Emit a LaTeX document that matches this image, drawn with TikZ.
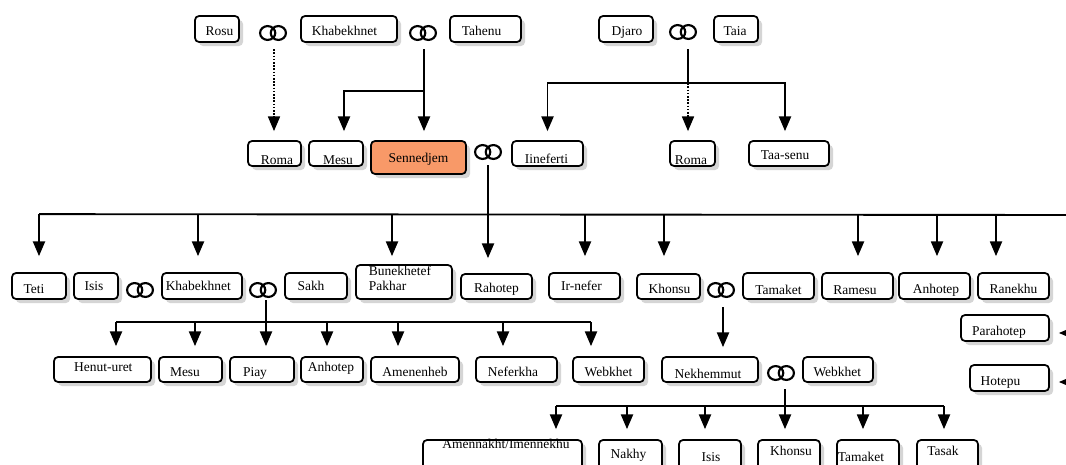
\documentclass[tikz,border=0pt]{standalone}
\usepackage{fontspec}
\setmainfont{Liberation Serif}
\usetikzlibrary{arrows.meta,shadows}
\definecolor{snjfill}{RGB}{248,153,104}
% text placed with horizontal shift #1 (px) and baseline #2 px below box centre
\newcommand\tx[3]{\raisebox{\dimexpr -#2pt*3/4\relax}[0pt][0pt]{\makebox[0pt]{\hspace*{\dimexpr #1pt*3/2\relax}#3}}}
% box from pixel corners
\newcommand\pbox[9][]{%
  \pgfmathsetmacro\pxw{(#4-#3)*0.75}%
  \pgfmathsetmacro\pxh{(#6-#5)*0.75}%
  \node[famBox,minimum width=\pxw pt,minimum height=\pxh pt,#1] (#2) at ({(#3+#4)/2},{(#5+#6)/2}) {\tx{#7}{#8}{#9}};}
\newcommand\dropto[4]{\draw[arr] ([shift={(#2,-#3)}]#1.north) -- ([shift={(#2,-#4)}]#1.north);}
\tikzset{
  famBox/.style={draw,line width=1.3pt,rounded corners=3pt,fill=white,inner sep=0pt,
    drop shadow={shadow xshift=3pt,shadow yshift=-3pt,fill=black!32},
    font=\fontsize{10.1}{11.3}\selectfont},
  rings/.style={minimum width=24pt,minimum height=15pt,inner sep=0pt,
    path picture={\draw[line width=1.6pt]
      ([xshift=-4pt]path picture bounding box.center) ellipse[x radius=5.7pt,y radius=5.2pt]
      ([xshift=4pt]path picture bounding box.center) ellipse[x radius=5.7pt,y radius=5.2pt];}},
  conn/.style={line width=1.4pt},
  arr/.style={conn,-{Triangle[width=9pt,length=11pt]}},
  dotarr/.style={arr,line width=1.2pt,dash pattern=on 1.2pt off 1.2pt}
}
\begin{document}
\begin{tikzpicture}[x=0.75pt,y=-0.75pt]
\useasboundingbox (0,0) rectangle (1066,464);
\fill[white] (0,0) rectangle (1066,464);
\clip (0,0) rectangle (1066,464);
% top row
\pbox{rosu}{195}{239}{16}{42}{2.5}{7}{Rosu}
\node[rings] (r1) at (273,33) {};
\pbox{khab1}{301}{397}{16}{42}{-4.5}{7}{Khabekhnet}
\node[rings] (r2) at (423,33) {};
\pbox{tahenu}{450}{521}{16}{42}{-4}{7}{Tahenu}
\pbox{djaro}{599}{653}{16}{42}{1}{7}{Djaro}
\node[rings] (r3) at (683,32) {};
\pbox{taia}{714}{758}{16}{42}{-1}{7}{Taia}
% second row
\pbox{roma1}{248}{301}{141}{166}{2.5}{10.5}{Roma}
\pbox{mesu1}{309}{363}{141}{166}{2}{10.5}{Mesu}
\pbox[fill=snjfill]{sennedjem}{371}{466}{141}{174}{0}{4.8}{Sennedjem}
\node[rings] (r4) at (488,152) {};
\pbox{iineferti}{512}{583}{141}{166}{-1}{10}{Iineferti}
\pbox{roma2}{670}{715}{141}{166}{-1.5}{10.5}{Roma}
\pbox{taasenu}{749}{829}{141}{166}{-4}{6}{Taa-senu}
% third row
\pbox{teti}{12}{66}{273}{299}{-5}{7.3}{Teti}
\pbox{isis1}{74}{118}{273}{299}{-2}{4}{Isis}
\node[rings] (r5) at (140,290) {};
\pbox{khab2}{162}{242}{273}{299}{-3.7}{4}{Khabekhnet}
\node[rings] (r6) at (263,290) {};
\pbox{sakh}{285}{347}{273}{299}{-5}{4}{Sakh}
\pbox{bunek}{356}{452}{265}{299}{-4}{8.5}{\vbox{\hbox{Bunekhetef}\hbox{Pakhar}}}
\pbox{rahotep}{461}{532}{274}{299}{0}{6.2}{Rahotep}
\pbox{irnefer}{549}{620}{273}{299}{-3}{4}{Ir-nefer}
\pbox{khonsu1}{637}{700}{274}{299}{1}{7}{Khonsu}
\node[rings] (r7) at (721,290) {};
\pbox{tamaket1}{743}{814}{273}{299}{0}{8}{Tamaket}
\pbox{ramesu}{822}{893}{273}{299}{-2.5}{8}{Ramesu}
\pbox{anhotep1}{899}{970}{273}{299}{1.5}{7}{Anhotep}
\pbox{ranekhu}{978}{1049}{273}{299}{0}{7}{Ranekhu}
\pbox{parahotep}{961}{1049}{315}{341}{-6}{7}{Parahotep}
\pbox{hotepu}{970}{1049}{365}{391}{-9}{7}{Hotepu}
% fourth row
\pbox{henut}{54}{151}{357}{382}{0.8}{1.5}{Henut-uret}
\pbox{mesu2}{159}{222}{357}{382}{-5.5}{7}{Mesu}
\pbox{piay}{230}{294}{357}{382}{-7}{6.5}{Piay}
\pbox{anhotep2}{301}{363}{357}{382}{-1}{1.5}{Anhotep}
\pbox{amenenheb}{371}{459}{357}{382}{0}{7}{Amenenheb}
\pbox{neferkha}{476}{557}{357}{382}{-3.5}{6.5}{Neferkha}
\pbox{webkhet1}{573}{644}{357}{382}{0}{6.5}{Webkhet}
\pbox{nekhemmut}{662}{758}{357}{382}{-2}{8.8}{Nekhemmut}
\node[rings] (r8) at (781,373) {};
\pbox{webkhet2}{803}{873}{357}{382}{-0.7}{6.5}{Webkhet}
% fifth row
\pbox{amennakht}{423}{582}{440}{470}{3.5}{-6.2}{Amennakht/Imennekhu}
\pbox{nakhy}{599}{662}{440}{470}{-2}{3.3}{Nakhy}
\pbox{isis2}{679}{741}{440}{470}{1}{6.3}{Isis}
\pbox{khonsu2}{758}{820}{440}{470}{2}{0}{Khonsu}
\pbox{tamaket2}{837}{899}{440}{470}{-7}{6.3}{Tamaket}
\pbox{tasak}{917}{978}{440}{470}{-4.5}{0}{Tasak}
% connectors: first generation
\draw[dotarr] ([shift={(1,6)}]r1.south) -- ([shift={(-0.5,-9)}]roma1.north);
\draw[arr] ([shift={(1,6)}]r2.south) -- ([shift={(5.5,-9)}]sennedjem.north);
\draw[arr] ([shift={(1,48)}]r2.south) -| ([shift={(8,-9)}]mesu1.north);
\coordinate (b3) at ([shift={(5,41)}]r3.south);
\draw[conn] ([shift={(5,7)}]r3.south) -- (b3);
\draw[arr] (b3) -| ([shift={(0,-9)}]iineferti.north);
\draw[arr] (b3) -| ([shift={(-4,-9)}]taasenu.north);
\draw[dotarr] (b3) -- ([shift={(-4.5,-9)}]roma2.north);
% Sennedjem's children
\draw[arr] ([shift={(0,3)}]r4.south) -- ([shift={(-8.5,-15)}]rahotep.north);
\coordinate (rt) at (1090,215);
\draw[conn] ([shift={(0,-58)}]teti.north) -- (rt);
\dropto{teti}{0}{58}{16}
\dropto{khab2}{-4}{58}{16}
\dropto{bunek}{-12}{50}{8}
\dropto{irnefer}{0.5}{58}{16}
\dropto{khonsu1}{-4.5}{59}{17}
\dropto{ramesu}{0.5}{58}{16}
\dropto{anhotep1}{2.5}{58}{16}
\dropto{ranekhu}{-17.5}{58}{16}
\draw[arr] (rt) |- ([shift={(9,5)}]parahotep.east);
\draw[arr] (rt) |- ([shift={(9,4)}]hotepu.east);
% Khabekhnet's children
\draw[arr] ([shift={(3,0)}]r6.south) -- ([shift={(4,-10)}]piay.north);
\draw[conn] ([shift={(13.5,-34)}]henut.north) -- ([shift={(-17.5,-34)}]webkhet1.north);
\dropto{henut}{13.5}{34}{10}
\dropto{mesu2}{4.5}{34}{10}
\dropto{anhotep2}{-5}{34}{10}
\dropto{amenenheb}{-17}{34}{10}
\dropto{neferkha}{-13.5}{34}{10}
\dropto{webkhet1}{-17.5}{34}{10}
% Khonsu's child
\draw[arr] ([shift={(2,7)}]r7.south) -- ([shift={(13,-9)}]nekhemmut.north);
% Nekhemmut's children
\draw[arr] ([shift={(4,6)}]r8.south) -- ([shift={(-4,-10)}]khonsu2.north);
\draw[conn] ([shift={(53.5,-33)}]amennakht.north) -- ([shift={(-3.5,-33)}]tasak.north);
\dropto{amennakht}{53.5}{33}{10}
\dropto{nakhy}{-3.5}{33}{10}
\dropto{isis2}{-5}{33}{10}
\dropto{tamaket2}{-5}{33}{10}
\dropto{tasak}{-3.5}{33}{10}
\end{tikzpicture}
\end{document}
